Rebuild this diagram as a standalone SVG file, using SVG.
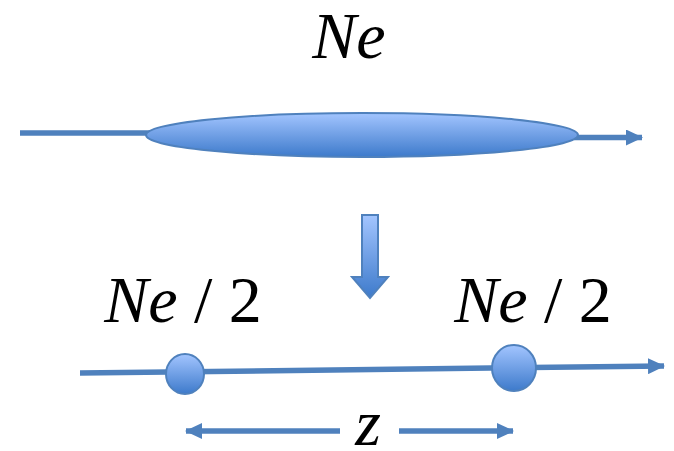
<svg xmlns="http://www.w3.org/2000/svg" width="674" height="451" viewBox="0 0 674 451">
<style>
.ln{stroke:#4F81BD;stroke-width:5.5;fill:none}
.sh{fill:url(#g);stroke:#4F81BD;stroke-width:2}
.t{font-family:"Liberation Serif",serif;font-style:italic;font-size:66px;fill:#000}
</style>
<defs>
<linearGradient id="g" x1="0" y1="0" x2="0" y2="1">
<stop offset="0" stop-color="#A3C5FF"/>
<stop offset="1" stop-color="#3D7ACB"/>
</linearGradient>
<marker id="ah" viewBox="0 0 17 16" refX="16" refY="8" markerWidth="17" markerHeight="16" orient="auto-start-reverse" markerUnits="userSpaceOnUse">
<path d="M0,0L17,8L0,16Z" fill="#4F81BD"/>
</marker>
</defs>
<g id="connectors">
<line class="ln" x1="20" y1="133" x2="150" y2="133"/>
<line class="ln" x1="574" y1="137.5" x2="642" y2="137.5" marker-end="url(#ah)"/>
<line class="ln" x1="80" y1="373" x2="664" y2="366" marker-end="url(#ah)"/>
<line class="ln" x1="186" y1="431" x2="340" y2="431" marker-start="url(#ah)"/>
<line class="ln" x1="399" y1="431" x2="513" y2="431" marker-end="url(#ah)"/>
</g>
<g id="population">
<ellipse class="sh" cx="362" cy="135" rx="216" ry="22"/>
</g>
<g id="label-ne"><text class="t" x="349" y="58" text-anchor="middle" font-size="64">Ne</text></g>
<g id="down-arrow">
<path class="sh" d="M362,215H378V277H388L370,298L352,277H362Z" stroke-width="1.5"/>
</g>
<g id="label-left"><text class="t" x="183" y="322" text-anchor="middle">Ne<tspan font-style="normal"> / 2</tspan></text></g>
<g id="label-right"><text class="t" x="533" y="322" text-anchor="middle">Ne<tspan font-style="normal"> / 2</tspan></text></g>
<g id="deme-left"><ellipse class="sh" cx="185" cy="374" rx="19" ry="20"/></g>
<g id="deme-right"><ellipse class="sh" cx="514" cy="368" rx="22" ry="23"/></g>
<g id="label-z"><text class="t" x="368" y="445" text-anchor="middle">z</text></g>
</svg>
